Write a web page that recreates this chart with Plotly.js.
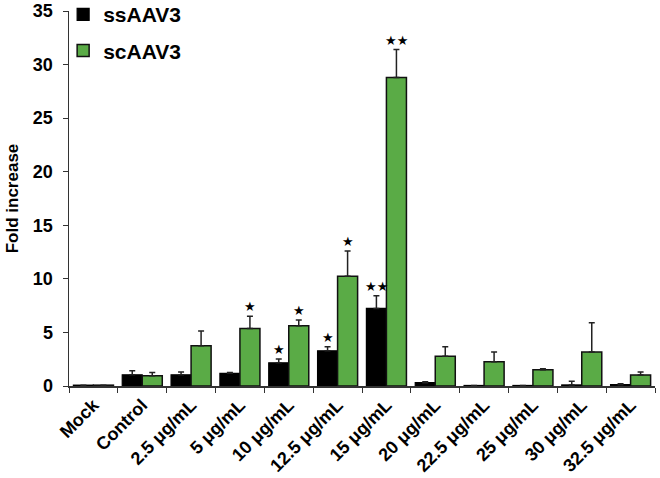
<!DOCTYPE html>
<html><head><meta charset="utf-8">
<script src="https://cdn.plot.ly/plotly-3.0.1.min.js"></script>
<style>html,body{margin:0;padding:0;background:#fff}#chart{width:660px;height:478px}</style>
</head><body><div id="chart"></div>
<script>
const categories = ["Mock","Control","2.5 μg/mL","5 μg/mL","10 μg/mL","12.5 μg/mL","15 μg/mL","20 μg/mL","22.5 μg/mL","25 μg/mL","30 μg/mL","32.5 μg/mL"];
const ssValues = [0.08, 1.05, 1.05, 1.18, 2.17, 3.29, 7.24, 0.31, 0.05, 0.05, 0.1, 0.12];
const ssErrors = [0, 0.38, 0.25, 0.08, 0.35, 0.37, 1.18, 0.08, 0, 0, 0.34, 0.08];
const scValues = [0.08, 0.96, 3.76, 5.37, 5.62, 10.25, 28.8, 2.77, 2.27, 1.52, 3.17, 1.03];
const scErrors = [0, 0.3, 1.37, 1.15, 0.53, 2.35, 2.6, 0.89, 0.9, 0.08, 2.73, 0.27];
const ssSig = ["","","","","★","★","★★","","","","",""];
const scSig = ["","","","★","★","★","★★","","","","",""];

const FONT = "Liberation Sans, Arial, sans-serif";
const GREEN = "#5aab46";

const traces = [
  {type:"bar", name:"ssAAV3", legendgroup:"ss", x:categories, y:ssValues,
   marker:{color:"#000000", line:{color:"#000000", width:1.2}},
   error_y:{type:"data", array:ssErrors, arrayminus:ssErrors.map(()=>0), symmetric:false, color:"#222", thickness:1.5, width:3}},
  {type:"bar", name:"scAAV3", legendgroup:"sc", x:categories, y:scValues,
   marker:{color:GREEN, line:{color:"#111111", width:1.5}},
   error_y:{type:"data", array:scErrors, arrayminus:scErrors.map(()=>0), symmetric:false, color:"#222", thickness:1.5, width:3}}
];

const annotations = [];
const starFont = {family:"DejaVu Sans", size:13, color:"#000"};
categories.forEach((c,i)=>{
  if (ssSig[i]) annotations.push({x:i-0.205, y:ssValues[i]+ssErrors[i], xref:"x", yref:"y", text:ssSig[i], showarrow:false, yanchor:"bottom", yshift:0, font:starFont});
  if (scSig[i]) annotations.push({x:i+0.205, y:scValues[i]+scErrors[i], xref:"x", yref:"y", text:scSig[i], showarrow:false, yanchor:"bottom", yshift:0, font:starFont});
});

const layout = {
  width:660, height:478,
  margin:{l:69, r:5, t:11, b:92, autoexpand:false},
  paper_bgcolor:"#fff", plot_bgcolor:"#fff",
  barmode:"group", bargap:0.18, bargroupgap:0,
  font:{family:FONT, color:"#000", weight:"bold"},
  showlegend:true,
  legend:{x:-0.01, y:1.045, xanchor:"left", yanchor:"top", font:{family:FONT, size:21, weight:"bold", color:"#000"}, tracegroupgap:6, itemwidth:30, bgcolor:"rgba(0,0,0,0)"},
  xaxis:{type:"category", showline:true, linecolor:"#333", linewidth:1.5, ticks:"outside", tickson:"boundaries", ticklen:5, tickcolor:"#333", tickangle:-45,
         tickfont:{family:FONT, size:18, weight:"bold", color:"#000"}, showgrid:false, zeroline:false},
  yaxis:{range:[0,35], dtick:5, showline:true, linecolor:"#333", linewidth:1.5, ticks:"outside", ticklen:5, tickcolor:"#333", ticklabelstandoff:6,
         tickfont:{family:FONT, size:18, weight:"bold", color:"#000"}, showgrid:false, zeroline:false,
         title:{text:"Fold increase", font:{family:FONT, size:17, weight:"bold", color:"#000"}, standoff:10}},
  annotations:annotations
};
Plotly.newPlot("chart", traces, layout, {displayModeBar:false, staticPlot:true});
</script></body></html>
